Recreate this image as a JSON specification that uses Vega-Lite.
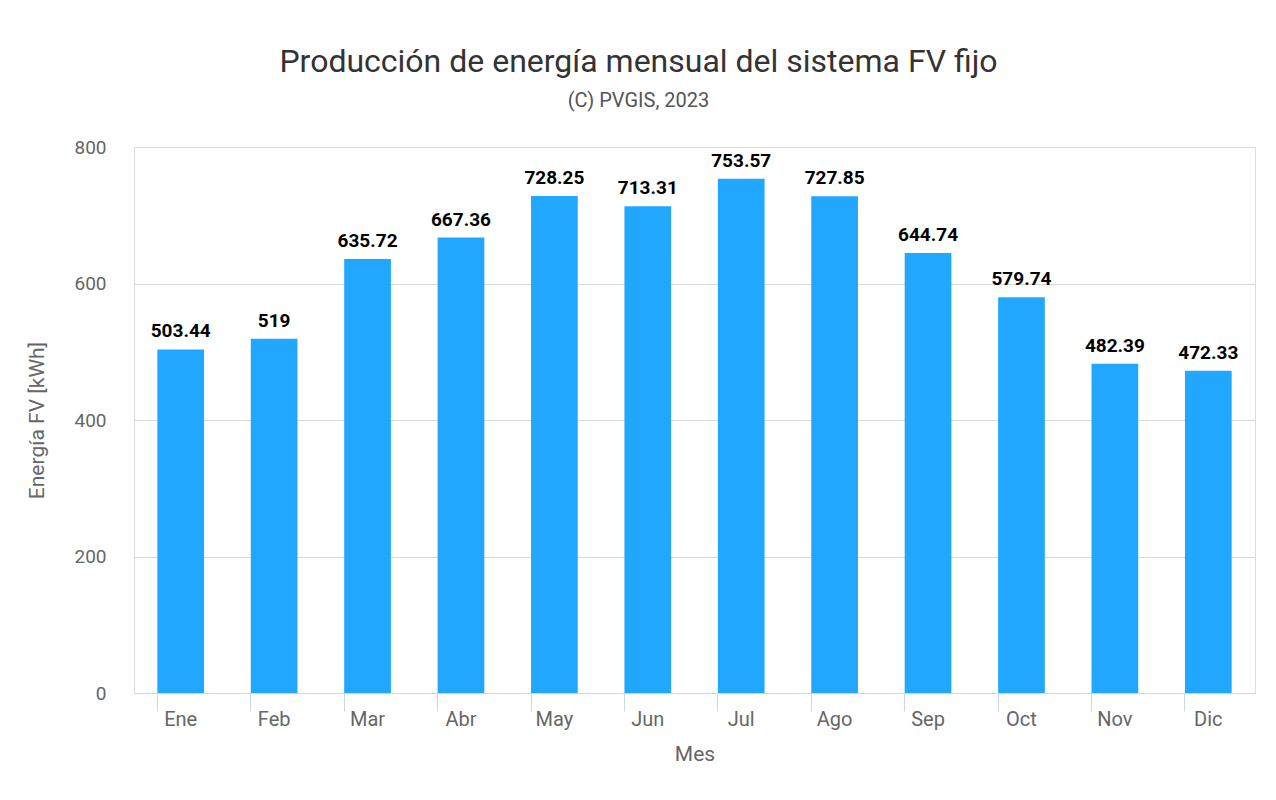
{
  "$schema": "https://vega.github.io/schema/vega-lite/v6.json",
  "autosize": "none",
  "width": 1121,
  "height": 546,
  "padding": {"left": 134, "top": 147, "right": 21, "bottom": 107},
  "background": "white",
  "title": {
    "text": "Producción de energía mensual del sistema FV fijo",
    "subtitle": "(C) PVGIS, 2023",
    "fontSize": 32, "font": "Roboto", "fontWeight": "normal", "color": "#333333",
    "subtitleFontSize": 20, "subtitleFont": "Roboto", "subtitleColor": "#555555",
    "subtitlePadding": 12, "offset": 26, "dx": -56, "anchor": "middle"
  },
  "data": {"values": [
    {"Mes": "Ene", "E": 503.44}, {"Mes": "Feb", "E": 519},
    {"Mes": "Mar", "E": 635.72}, {"Mes": "Abr", "E": 667.36},
    {"Mes": "May", "E": 728.25}, {"Mes": "Jun", "E": 713.31},
    {"Mes": "Jul", "E": 753.57}, {"Mes": "Ago", "E": 727.85},
    {"Mes": "Sep", "E": 644.74}, {"Mes": "Oct", "E": 579.74},
    {"Mes": "Nov", "E": 482.39}, {"Mes": "Dic", "E": 472.33}
  ]},
  "encoding": {
    "x": {"field": "Mes", "type": "nominal", "sort": null,
      "scale": {"paddingInner": 0.5, "paddingOuter": 0.25},
      "axis": {"title": "Mes", "labelAngle": 0, "labelFont": "Roboto", "labelFontSize": 20,
        "labelColor": "#666666", "titleFont": "Roboto", "titleFontSize": 21, "titleFontWeight": "normal",
        "titleColor": "#666666", "domainColor": "#ccd6eb", "tickColor": "#ccd6eb", "tickSize": 18,
        "bandPosition": 0, "labelPadding": -2, "titlePadding": 14}},
    "y": {"field": "E", "type": "quantitative", "scale": {"domain": [0, 800]},
      "axis": {"title": "Energía FV [kWh]", "values": [0, 200, 400, 600, 800], "domain": false, "ticks": false,
        "labelFont": "Roboto", "labelFontSize": 19, "labelColor": "#666666", "labelPadding": 28,
        "titleFont": "Roboto", "titleFontSize": 21, "titleFontWeight": "normal", "titleColor": "#666666",
        "titlePadding": 26, "gridColor": "#d8d8d8"}}
  },
  "layer": [
    {"mark": {"type": "bar", "color": "#22a7fe"}},
    {"mark": {"type": "text", "baseline": "bottom", "dy": -8, "font": "Roboto", "fontSize": 19,
      "fontWeight": "bold", "color": "black"},
     "encoding": {"text": {"field": "E", "type": "quantitative"}}}
  ]
}
